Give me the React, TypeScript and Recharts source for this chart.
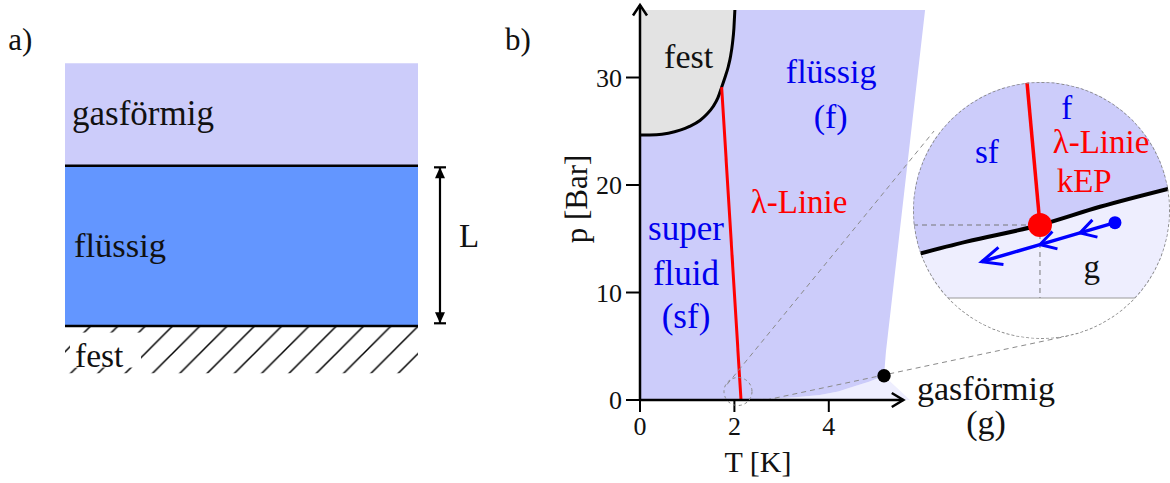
import React from 'react';
import { ComposedChart, Area, Line, XAxis, YAxis, ReferenceArea, ReferenceDot } from 'recharts';

const FONT = 'Liberation Serif, serif';
const LAV = '#ccccfa';
const LIGHT = '#eeeefe';
const GREY = '#e3e3e3';
const LIQ = '#6396ff';
const BLUE = '#0000ee';
const RED = '#ff0000';

// ---------- Panel a data ----------
const layerNames = ['gasförmig', 'flüssig', 'fest'];
const layerTop = [1.639, 1, 0];
const layerBottom = [1, 0, -0.295];
const boundaryLevels = [1, 0];
const dimLine = [{ x: 1.0623, y: 0.017 }, { x: 1.0623, y: 0.99 }];

// ---------- Panel b data ----------
const P_TOP = 36.28;
const festT = [0, 0.35, 0.6, 0.85, 1.05, 1.27, 1.42, 1.55, 1.65, 1.73, 1.8, 1.87, 1.92, 1.96, 1.99, 2.01];
const festP = [24.65, 24.68, 24.82, 25.1, 25.45, 26.0, 26.6, 27.3, 28.1, 29.1, 30.0, 31.0, 32.0, 33.2, 34.6, 36.28];
const vaporT = [2.17, 2.75, 3.3, 3.81, 4.2, 4.51, 4.85, 5.17];
const vaporP = [0.05, 0.12, 0.25, 0.47, 0.8, 1.24, 1.7, 2.26];
const edgeT = [5.21, 6.04];
const edgeP = [4.47, 36.28];
const gasEndT = 5.72;
const lambdaT = [2.14, 1.73];
const lambdaP = [0, 29.1];
const critT = 5.17;
const critP = 2.26;
const xTicks = [0, 2, 4];
const yTicks = [0, 10, 20, 30];
const xAxisEnd = 5.58;
const yAxisEnd = 36.74;
const zoomCenter = { T: 2.076, p: 0.79 };
const upperTangent = [{ T: 1.843, p: 1.442 }, { T: 6.229, p: 25.02 }];
const lowerTangent = [{ T: 2.669, p: 0 }, { T: 9.055, p: 5.95 }];

// ---------- Inset data ----------
const inT = [1.8747, 1.9995, 2.17, 2.3095, 2.4724];
const inP = [0.0292, 0.0386, 0.05, 0.0625, 0.0751];
const IN_TOP = 0.14795;
const lamPoint = { T: 2.17, p: 0.05 };
const inLambdaTop = { T: 2.1398, p: 0.14795 };
const blueT = [2.3444, 2.263, 2.17, 2.0344];
const blueP = [0.0516, 0.0446, 0.0366, 0.0249];

// ---------- derived tables ----------
const festData = festT.map((T, i) => ({ T, p: festP[i], r: [festP[i], P_TOP] }));
const liquidData = [
  { T: 0, r: [0, P_TOP] },
  ...vaporT.map((T, i) => ({ T, r: [vaporP[i], P_TOP] })),
  ...edgeT.map((T, i) => ({ T, r: [edgeP[i], P_TOP] })),
];
const gasData = [
  ...vaporT.map((T, i) => ({ T, r: [0, vaporP[i]] })),
  { T: gasEndT, r: [0, 0] },
];
const lambdaData = lambdaT.map((T, i) => ({ T, p: lambdaP[i] }));
const xAxisData = [{ T: 0, p: 0 }, { T: xAxisEnd, p: 0 }];
const yAxisData = [{ T: 0, p: 0 }, { T: 0, p: yAxisEnd }];

const inCurve = inT.map((T, i) => ({ T, p: inP[i], up: [inP[i], IN_TOP], lo: [0, inP[i]] }));
const inZero = [{ T: inT[0], p: 0 }, { T: inT[inT.length - 1], p: 0 }];
const inHoriz = [{ T: inT[0], p: lamPoint.p }, { T: lamPoint.T, p: lamPoint.p }];
const inVert = [{ T: lamPoint.T, p: lamPoint.p }, { T: lamPoint.T, p: 0 }];
const inLambda = [inLambdaTop, lamPoint];
const blueData = blueT.map((T, i) => ({ T, p: blueP[i] }));

type TxtOpts = { color?: string; size: number; anchor?: string; rotate?: number; baseline?: string };
const txt = (text: string, o: TxtOpts) => (props: any) => (
  <text
    x={props.cx}
    y={props.cy}
    fill={o.color ?? '#111'}
    fontSize={o.size}
    style={{ fontFamily: FONT }}
    textAnchor={o.anchor ?? 'middle'}
    dominantBaseline={o.baseline}
    transform={o.rotate ? `rotate(${o.rotate} ${props.cx} ${props.cy})` : undefined}
  >
    {text}
  </text>
);

const festTextShape = (props: any) => (
  <g>
    <rect x={props.cx - 5} y={props.cy - 34} width={71} height={35} fill="#fff" />
    <text x={props.cx} y={props.cy} fill="#111" fontSize={33.5} style={{ fontFamily: FONT }}>
      {layerNames[2]}
    </text>
  </g>
);

const dimDot = (props: any) => {
  const { cx, cy, index } = props;
  const dir = index === 0 ? 1 : -1;
  return (
    <g key={`dim-${index}`}>
      <line x1={cx - 6} x2={cx + 6} y1={cy} y2={cy} stroke="#000" strokeWidth={2.2} />
      <path d={`M${cx},${cy} L${cx - 5},${cy - dir * 11} L${cx + 5},${cy - dir * 11} Z`} fill="#000" />
    </g>
  );
};

function PanelA() {
  return (
    <ComposedChart width={500} height={483} margin={{ top: 63.3, right: 11.4, bottom: 109.7, left: 65 }}>
      <defs>
        <pattern id="hatchA" patternUnits="userSpaceOnUse" x={7.2} y={0} width={27.3} height={27.3}>
          <path d="M-2,2 L2,-2 M0,27.3 L27.3,0 M25.3,29.3 L29.3,25.3" stroke="#000" strokeWidth={1.5} />
        </pattern>
      </defs>
      <XAxis type="number" dataKey="x" domain={[0, 1.2]} hide />
      <YAxis type="number" dataKey="y" domain={[-0.295, 1.639]} hide />
      <ReferenceArea x1={0} x2={1} y1={layerBottom[0]} y2={layerTop[0]} fill={LAV} fillOpacity={1} stroke="none" />
      <ReferenceArea x1={0} x2={1} y1={layerBottom[1]} y2={layerTop[1]} fill={LIQ} fillOpacity={1} stroke="none" />
      <ReferenceArea x1={0} x2={1} y1={layerBottom[2]} y2={layerTop[2]} fill="url(#hatchA)" fillOpacity={1} stroke="none" />
      {boundaryLevels.map((lv) => (
        <Line
          key={`b${lv}`}
          data={[{ x: 0, y: lv }, { x: 1, y: lv }]}
          dataKey="y"
          stroke="#000"
          strokeWidth={2.6}
          dot={false}
          isAnimationActive={false}
        />
      ))}
      <Line data={dimLine} dataKey="y" stroke="#000" strokeWidth={2.2} dot={dimDot} isAnimationActive={false} />
      <ReferenceDot x={0.0198} y={1.253} r={0} ifOverflow="visible" shape={txt(layerNames[0], { size: 35, anchor: 'start' })} />
      <ReferenceDot x={0.0255} y={0.432} r={0} ifOverflow="visible" shape={txt(layerNames[1], { size: 34.5, anchor: 'start' })} />
      <ReferenceDot x={0.0283} y={-0.253} r={0} ifOverflow="visible" shape={festTextShape} />
      <ReferenceDot x={1.1445} y={0.491} r={0} ifOverflow="visible" shape={txt('L', { size: 33 })} />
      <ReferenceDot x={-0.161} y={1.721} r={0} ifOverflow="visible" shape={txt('a)', { size: 31, anchor: 'start' })} />
    </ComposedChart>
  );
}

const xArrowDot = (props: any) => {
  const { cx, cy, index } = props;
  if (index !== 1) return <g key={`xa${index}`} />;
  return <path key="xa1" d={`M${cx - 11.6},${cy - 7} L${cx},${cy} L${cx - 11.6},${cy + 7}`} stroke="#000" strokeWidth={2.5} fill="none" />;
};
const yArrowDot = (props: any) => {
  const { cx, cy, index } = props;
  if (index !== 1) return <g key={`ya${index}`} />;
  return <path key="ya1" d={`M${cx - 7},${cy + 10.5} L${cx},${cy} L${cx + 7},${cy + 10.5}`} stroke="#000" strokeWidth={2.5} fill="none" />;
};

const tickStyle = { fill: '#111', fontSize: 26, fontFamily: FONT };

function PanelB() {
  return (
    <ComposedChart width={1170} height={483} margin={{ top: 0, right: 0, bottom: 43, left: 580 }}>
      <XAxis
        type="number"
        dataKey="T"
        domain={[0, 11.229]}
        ticks={xTicks}
        axisLine={false}
        tickSize={12}
        tickMargin={5}
        tickLine={{ stroke: '#000', strokeWidth: 2 }}
        tick={tickStyle}
        height={40}
      />
      <YAxis
        type="number"
        dataKey="p"
        domain={[0, 37.21]}
        ticks={yTicks}
        axisLine={false}
        tickSize={14}
        tickMargin={4}
        tickLine={{ stroke: '#000', strokeWidth: 2 }}
        tick={tickStyle}
        width={60}
      />
      <Area data={gasData} dataKey="r" type="linear" stroke="none" fill={LIGHT} fillOpacity={1} isAnimationActive={false} />
      <Area data={liquidData} dataKey="r" type="linear" stroke="none" fill={LAV} fillOpacity={1} isAnimationActive={false} />
      <Area data={festData} dataKey="r" type="monotone" stroke="none" fill={GREY} fillOpacity={1} isAnimationActive={false} />
      <Line data={festData} dataKey="p" type="monotone" stroke="#000" strokeWidth={3} dot={false} isAnimationActive={false} />
      <Line data={lambdaData} dataKey="p" stroke={RED} strokeWidth={3} dot={false} isAnimationActive={false} />
      <Line data={upperTangent} dataKey="p" stroke="#8a8a8a" strokeWidth={1} strokeDasharray="5 4" dot={false} isAnimationActive={false} />
      <Line data={lowerTangent} dataKey="p" stroke="#8a8a8a" strokeWidth={1} strokeDasharray="5 4" dot={false} isAnimationActive={false} />
      <Line data={xAxisData} dataKey="p" stroke="#000" strokeWidth={2.5} dot={xArrowDot} isAnimationActive={false} />
      <Line data={yAxisData} dataKey="p" stroke="#000" strokeWidth={2.5} dot={yArrowDot} isAnimationActive={false} />
      <ReferenceDot x={zoomCenter.T} y={zoomCenter.p} r={14} fill="none" stroke="#8a8a8a" strokeWidth={1} strokeDasharray="3 3" ifOverflow="visible" />
      <ReferenceDot x={critT} y={critP} r={6.7} fill="#000" stroke="none" ifOverflow="visible" />
      <ReferenceDot x={1.03} y={30.88} r={0} ifOverflow="visible" shape={txt('fest', { size: 34 })} />
      <ReferenceDot x={4.05} y={29.45} r={0} ifOverflow="visible" shape={txt('flüssig', { size: 34, color: BLUE })} />
      <ReferenceDot x={4.04} y={25.27} r={0} ifOverflow="visible" shape={txt('(f)', { size: 34, color: BLUE })} />
      <ReferenceDot x={3.37} y={17.37} r={0} ifOverflow="visible" shape={txt('λ-Linie', { size: 33, color: RED })} />
      <ReferenceDot x={0.975} y={14.88} r={0} ifOverflow="visible" shape={txt('super', { size: 35, color: BLUE })} />
      <ReferenceDot x={0.975} y={10.7} r={0} ifOverflow="visible" shape={txt('fluid', { size: 35, color: BLUE })} />
      <ReferenceDot x={0.975} y={6.67} r={0} ifOverflow="visible" shape={txt('(sf)', { size: 35, color: BLUE })} />
      <ReferenceDot x={7.33} y={0} r={0} ifOverflow="visible" shape={txt('gasförmig', { size: 34 })} />
      <ReferenceDot x={7.33} y={-3.16} r={0} ifOverflow="visible" shape={txt('(g)', { size: 34 })} />
      <ReferenceDot x={2.5} y={-6.67} r={0} ifOverflow="visible" shape={txt('T [K]', { size: 30 })} />
      <ReferenceDot x={-1.341} y={18.7} r={0} ifOverflow="visible" shape={txt('p [Bar]', { size: 31, rotate: -90, baseline: 'central' })} />
      <ReferenceDot x={-2.86} y={32.56} r={0} ifOverflow="visible" shape={txt('b)', { size: 31, anchor: 'start' })} />
    </ComposedChart>
  );
}

let blueStart = { x: 0, y: 0 };
const blueDot = (props: any) => {
  const { cx, cy, index } = props;
  if (index === 0) {
    blueStart = { x: cx, y: cy };
    return <circle key="bd0" cx={cx} cy={cy} r={6.5} fill="#0000ff" />;
  }
  const dx = blueStart.x - cx;
  const dy = blueStart.y - cy;
  const len = Math.hypot(dx, dy) || 1;
  const ux = dx / len;
  const uy = dy / len;
  const isTip = index === blueT.length - 1;
  const L = isTip ? 22 : 18;
  const a = ((isTip ? 24 : 30) * Math.PI) / 180;
  const rot = (ang: number) => ({ x: ux * Math.cos(ang) - uy * Math.sin(ang), y: ux * Math.sin(ang) + uy * Math.cos(ang) });
  const r1 = rot(a);
  const r2 = rot(-a);
  return (
    <path
      key={`bd${index}`}
      d={`M${cx + r1.x * L},${cy + r1.y * L} L${cx},${cy} L${cx + r2.x * L},${cy + r2.y * L}`}
      stroke="#0000ff"
      strokeWidth={3}
      fill="none"
    />
  );
};

function Inset() {
  return (
    <ComposedChart width={257} height={257} margin={{ top: 0, right: 0, bottom: 0, left: 0 }}>
      <XAxis type="number" dataKey="T" domain={[1.8747, 2.4724]} hide />
      <YAxis type="number" dataKey="p" domain={[-0.02808, IN_TOP]} hide />
      <Area data={inCurve} dataKey="lo" type="monotone" stroke="none" fill={LIGHT} fillOpacity={1} isAnimationActive={false} />
      <Area data={inCurve} dataKey="up" type="monotone" stroke="none" fill={LAV} fillOpacity={1} isAnimationActive={false} />
      <Line data={inZero} dataKey="p" stroke="#9a9a9a" strokeWidth={1.2} dot={false} isAnimationActive={false} />
      <Line data={inHoriz} dataKey="p" stroke="#777" strokeWidth={1} strokeDasharray="5 4" dot={false} isAnimationActive={false} />
      <Line data={inVert} dataKey="p" stroke="#777" strokeWidth={1} strokeDasharray="5 4" dot={false} isAnimationActive={false} />
      <Line data={inLambda} dataKey="p" stroke={RED} strokeWidth={3.5} dot={false} isAnimationActive={false} />
      <Line data={inCurve} dataKey="p" type="monotone" stroke="#000" strokeWidth={4} dot={false} isAnimationActive={false} />
      <Line data={blueData} dataKey="p" stroke="#0000ff" strokeWidth={3.5} dot={blueDot} isAnimationActive={false} />
      <ReferenceDot x={lamPoint.T} y={lamPoint.p} r={12} fill={RED} stroke="none" ifOverflow="visible" />
      <ReferenceDot x={2.0467} y={0.0927} r={0} ifOverflow="visible" shape={txt('sf', { size: 33, color: BLUE })} />
      <ReferenceDot x={2.2321} y={0.1224} r={0} ifOverflow="visible" shape={txt('f', { size: 33, color: BLUE })} />
      <ReferenceDot x={2.1995} y={0.0991} r={0} ifOverflow="visible" shape={txt('λ-Linie', { size: 33, color: RED, anchor: 'start' })} />
      <ReferenceDot x={2.2088} y={0.0728} r={0} ifOverflow="visible" shape={txt('kEP', { size: 33, color: RED, anchor: 'start' })} />
      <ReferenceDot x={2.2902} y={0.0135} r={0} ifOverflow="visible" shape={txt('g', { size: 33 })} />
    </ComposedChart>
  );
}

export default function App() {
  return (
    <div style={{ position: 'absolute', left: 0, top: 0, width: 1170, height: 483, background: '#fff', overflow: 'hidden' }}>
      <div style={{ position: 'absolute', left: 0, top: 0 }}>
        <PanelA />
      </div>
      <div style={{ position: 'absolute', left: 0, top: 0 }}>
        <PanelB />
      </div>
      <div style={{ position: 'absolute', left: 913, top: 82, width: 257, height: 257, clipPath: 'circle(50% at 50% 50%)' }}>
        <Inset />
      </div>
      <div
        style={{
          position: 'absolute',
          left: 913,
          top: 82,
          width: 257,
          height: 257,
          borderRadius: '50%',
          border: '1.2px dashed #8c8c8c',
          boxSizing: 'border-box',
          pointerEvents: 'none',
        }}
      />
    </div>
  );
}
